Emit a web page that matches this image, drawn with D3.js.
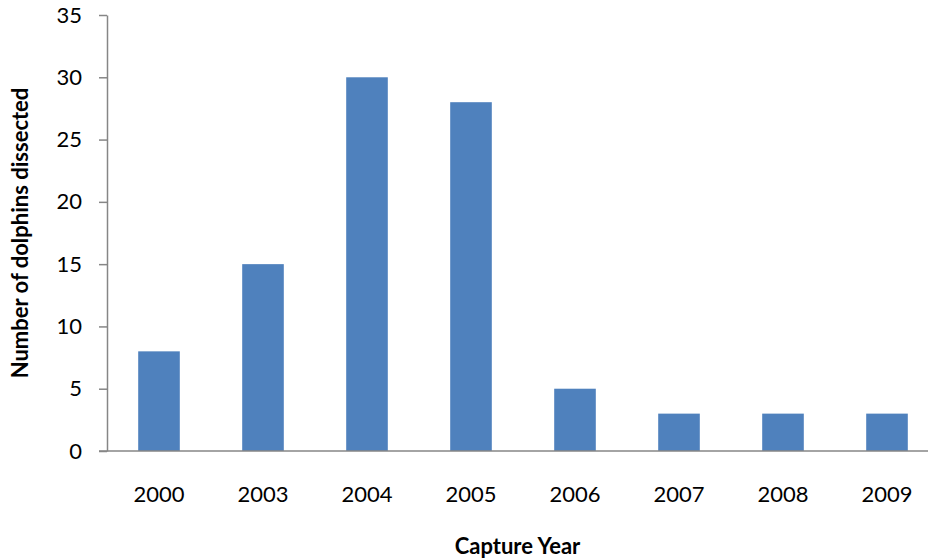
<!DOCTYPE html>
<html><head><meta charset="utf-8">
<script src="https://cdn.jsdelivr.net/npm/d3@7"></script>
<style>body{margin:0;background:#fff}svg{display:block}text{font-family:"Lato","Open Sans",sans-serif}</style>
</head><body><svg id="c" width="928" height="560"></svg>
<script>
const categories = ["2000","2003","2004","2005","2006","2007","2008","2009"];
const values = [8,15,30,28,5,3,3,3];
const yTicks = [0,5,10,15,20,25,30,35];

(function(){
const svg = d3.select("#c");
const mLeft = 107, mRight = 939, mTop = 15, mBottom = 451;
const x = d3.scaleBand().domain(categories).range([mLeft, mRight]).paddingInner(0.6).paddingOuter(0.3);
const y = d3.scaleLinear().domain([0,35]).range([mBottom, mTop]);

svg.append("g").selectAll("rect").data(values).join("rect")
  .attr("x",(d,i)=>x(categories[i])).attr("width",x.bandwidth())
  .attr("y",d=>y(d)).attr("height",d=>y(0)-y(d)).attr("fill","#4F81BD");

const ya = svg.append("g").attr("transform",`translate(${mLeft},0)`)
  .call(d3.axisLeft(y).tickValues(yTicks).tickSize(8).tickSizeOuter(0).tickPadding(17));
ya.select(".domain").attr("stroke","#868686").attr("stroke-width",1.5);
ya.selectAll(".tick line").attr("stroke","#868686").attr("stroke-width",1.5);
ya.selectAll("text").attr("font-size",22).attr("fill","#000");

const xa = svg.append("g").attr("transform",`translate(0,${mBottom})`)
  .call(d3.axisBottom(x).tickSize(0).tickPadding(35));
xa.select(".domain").attr("stroke","#868686").attr("stroke-width",1.5).attr("d",`M${mLeft-8},0H${mRight}`);
xa.selectAll("text").attr("font-size",22).attr("fill","#000");

svg.append("text").attr("x",(mLeft+928)/2).attr("y",554).attr("text-anchor","middle")
  .attr("font-size",22).attr("font-weight","bold").text("Capture Year");
svg.append("text").attr("transform",`translate(28,${(mTop+mBottom)/2}) rotate(-90)`).attr("text-anchor","middle")
  .attr("font-size",22).attr("font-weight","bold").text("Number of dolphins dissected");
})();
</script></body></html>
